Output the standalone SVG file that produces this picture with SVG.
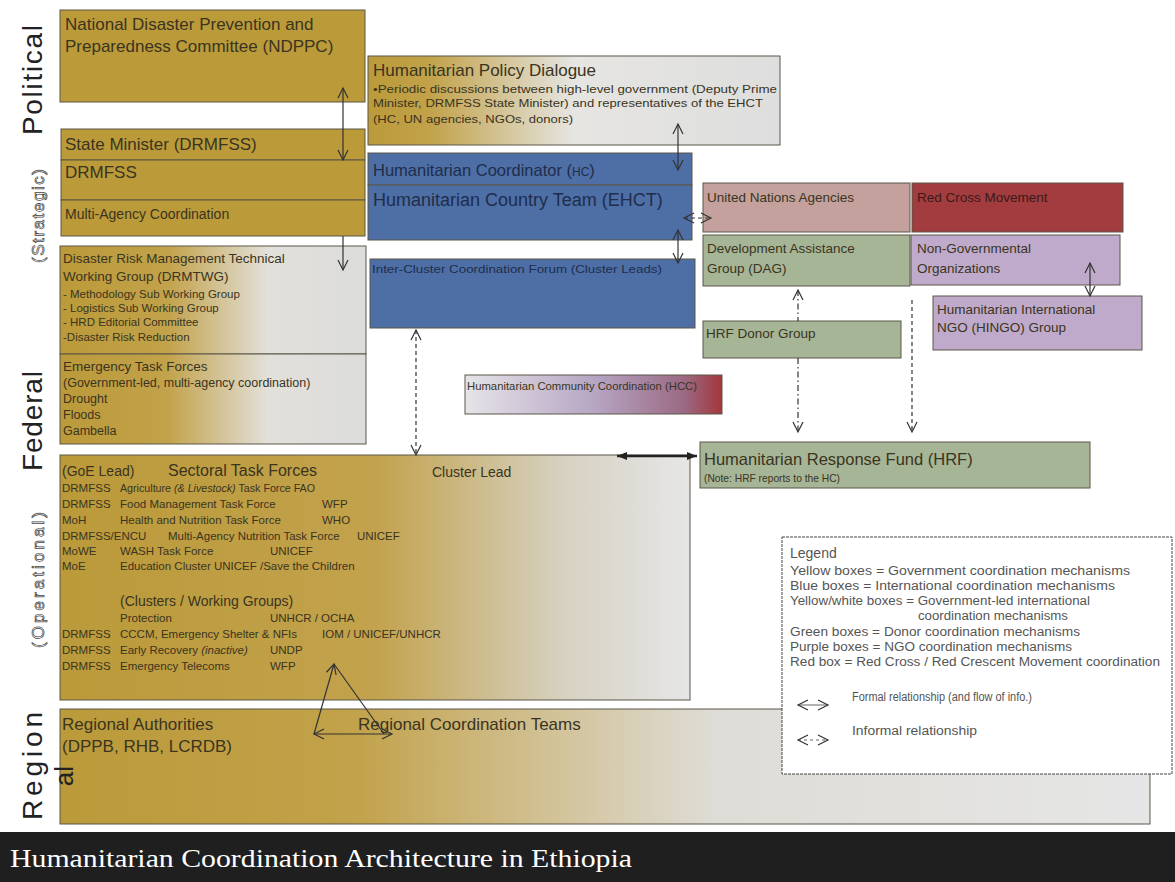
<svg xmlns="http://www.w3.org/2000/svg" width="1175" height="882" viewBox="0 0 1175 882">
<style>
text{font-family:"Liberation Sans",Arial,sans-serif;fill:#3a3420}
.b{stroke:#5a5648;stroke-width:1}
.y{fill:#BB9A3A}
.blue{fill:#4D6FA6}
.bt{fill:#1f2d4a}
.green{fill:#A7B597}
.purple{fill:#BFAACB}
.pink{fill:#C4A19D}
.red{fill:#A33C3F}
.side{font-family:"Liberation Sans",Arial,sans-serif;fill:#222}
.hollow{fill:#fff;stroke:#444;stroke-width:0.7}
.c{fill:none;stroke:#333;stroke-width:1.2}
.dash{stroke-dasharray:4 3}
.dd{stroke-dasharray:6 3 1.5 3}
.sm{font-size:11.5px}
.lg{font-size:12px;fill:#555}
</style>
<defs>
<marker id="v" markerUnits="userSpaceOnUse" markerWidth="14" markerHeight="14" refX="11" refY="6" orient="auto-start-reverse"><path d="M1,1 L11,6 L1,11" fill="none" stroke="#333" stroke-width="1.2"/></marker>
<marker id="f" markerUnits="userSpaceOnUse" markerWidth="12" markerHeight="10" refX="10" refY="4" orient="auto-start-reverse"><path d="M0,0 L10,4 L0,8 z" fill="#222"/></marker>
<linearGradient id="gTWG" gradientUnits="userSpaceOnUse" x1="60" y1="0" x2="366" y2="0"><stop offset="0" stop-color="#BB9A3A"/><stop offset="0.35" stop-color="#C2A24A"/><stop offset="0.68" stop-color="#E2E0DA"/><stop offset="1" stop-color="#DCDCDC"/></linearGradient>
<linearGradient id="gHPD" x1="0" y1="0" x2="1" y2="0"><stop offset="0" stop-color="#BB9A3A"/><stop offset="0.15" stop-color="#C2A24A"/><stop offset="0.5" stop-color="#E6E5E2"/><stop offset="1" stop-color="#DEDEDE"/></linearGradient>
<linearGradient id="gSec" x1="0" y1="0" x2="1" y2="0"><stop offset="0" stop-color="#BB9A3A"/><stop offset="0.5" stop-color="#C2A24C"/><stop offset="0.8" stop-color="#D6D1C2"/><stop offset="1" stop-color="#E6E6E6"/></linearGradient>
<linearGradient id="gReg" x1="0" y1="0" x2="1" y2="0"><stop offset="0" stop-color="#BB9A3A"/><stop offset="0.27" stop-color="#C2A24A"/><stop offset="0.6" stop-color="#DEDCD6"/><stop offset="1" stop-color="#E6E6E6"/></linearGradient>
<linearGradient id="gHCC" x1="0" y1="0" x2="1" y2="0"><stop offset="0" stop-color="#E6E4E8"/><stop offset="0.5" stop-color="#B6A6C4"/><stop offset="0.85" stop-color="#9B6A84"/><stop offset="1" stop-color="#A2383C"/></linearGradient>
</defs>

<rect width="1175" height="882" fill="#fff"/>

<g id="labels">
<text class="side" transform="rotate(-90 42 80)" x="42" y="80" text-anchor="middle" font-size="28" textLength="110" lengthAdjust="spacing">Political</text>
<text class="hollow" transform="rotate(-90 44 216)" x="44" y="216" text-anchor="middle" font-size="17" textLength="94" lengthAdjust="spacing" style="font-family:'Liberation Sans',Arial,sans-serif">(Strategic)</text>
<text class="side" transform="rotate(-90 42 421)" x="42" y="421" text-anchor="middle" font-size="28" textLength="100" lengthAdjust="spacing">Federal</text>
<text class="hollow" transform="rotate(-90 44 580)" x="44" y="580" text-anchor="middle" font-size="17" textLength="136" lengthAdjust="spacing" style="font-family:'Liberation Sans',Arial,sans-serif">(Operational)</text>
<text class="side" transform="rotate(-90 42 766)" x="42" y="766" text-anchor="middle" font-size="28" textLength="108" lengthAdjust="spacing">Region</text>
</g>

<g id="ndppc">
<rect class="y b" x="60" y="10" width="305" height="92"/>
<text x="65" y="30" font-size="17">National Disaster Prevention and</text>
<text x="65" y="52" font-size="17">Preparedness Committee (NDPPC)</text>
</g>
<g id="stateminister">
<rect class="y b" x="61" y="129" width="304" height="31"/>
<text x="65" y="150" font-size="17">State Minister (DRMFSS)</text>
</g>
<g id="drmfss">
<rect class="y b" x="61" y="160" width="304" height="40"/>
<text x="65" y="178" font-size="17">DRMFSS</text>
</g>
<g id="multiagency">
<rect class="y b" x="61" y="200" width="304" height="36"/>
<text x="65" y="219" font-size="14">Multi-Agency Coordination</text>
</g>
<g id="drmtwg">
<rect class="b" fill="url(#gTWG)" x="60" y="246" width="306" height="108"/>
<text x="63" y="263" font-size="13.5">Disaster Risk Management Technical</text>
<text x="63" y="281" font-size="13.5">Working Group (DRMTWG)</text>
<text x="63" y="298" class="sm">- Methodology Sub Working Group</text>
<text x="63" y="312" class="sm">- Logistics Sub Working Group</text>
<text x="63" y="326" class="sm">- HRD Editorial Committee</text>
<text x="63" y="341" class="sm">-Disaster Risk Reduction</text>
</g>
<g id="etf">
<rect class="b" fill="url(#gTWG)" x="60" y="354" width="306" height="90"/>
<text x="63" y="371" font-size="13.5">Emergency Task Forces</text>
<text x="63" y="387" font-size="12.5">(Government-led, multi-agency coordination)</text>
<text x="63" y="403" font-size="12.5">Drought</text>
<text x="63" y="419" font-size="12.5">Floods</text>
<text x="63" y="435" font-size="12.5">Gambella</text>
</g>

<g id="hpd">
<rect class="b" fill="url(#gHPD)" x="368" y="56" width="412" height="89"/>
<text x="373" y="76" font-size="17">Humanitarian Policy Dialogue</text>
<text x="373" y="93" font-size="11" textLength="404" lengthAdjust="spacingAndGlyphs">•Periodic discussions between  high-level government (Deputy Prime</text>
<text x="373" y="107" font-size="11" textLength="390" lengthAdjust="spacingAndGlyphs">Minister, DRMFSS State Minister) and representatives of the EHCT</text>
<text x="373" y="123" font-size="11" textLength="200" lengthAdjust="spacingAndGlyphs">(HC, UN agencies, NGOs, donors)</text>
</g>

<g id="hc">
<rect class="blue b" x="368" y="153" width="324" height="32"/>
<text x="373" y="176" font-size="16.5" class="bt">Humanitarian Coordinator (<tspan font-size="12">HC</tspan>)</text>
</g>
<g id="ehct">
<rect class="blue b" x="368" y="185" width="324" height="55"/>
<text x="373" y="206" font-size="18" class="bt">Humanitarian Country Team (EHCT)</text>
</g>
<g id="iccf">
<rect class="blue b" x="370" y="259" width="325" height="69"/>
<text x="372" y="273" font-size="11" class="bt" textLength="290" lengthAdjust="spacingAndGlyphs">Inter-Cluster Coordination Forum (Cluster Leads)</text>
</g>

<g id="una">
<rect class="pink b" x="703" y="183" width="207" height="49"/>
<text x="707" y="202" font-size="13.5">United Nations Agencies</text>
</g>
<g id="redcross">
<rect class="red b" x="912" y="183" width="211" height="49"/>
<text x="917" y="202" font-size="13.5" style="fill:#3a1a1a">Red Cross Movement</text>
</g>
<g id="dag">
<rect class="green b" x="703" y="235" width="207" height="51"/>
<text x="707" y="253" font-size="13.5">Development Assistance</text>
<text x="707" y="273" font-size="13.5">Group (DAG)</text>
</g>
<g id="ngo">
<rect class="purple b" x="911" y="235" width="209" height="50"/>
<text x="917" y="253" font-size="13.5">Non-Governmental</text>
<text x="917" y="273" font-size="13.5">Organizations</text>
</g>
<g id="hrfdonor">
<rect class="green b" x="703" y="321" width="198" height="37"/>
<text x="706" y="338" font-size="13.5">HRF Donor Group</text>
</g>
<g id="hingo">
<rect class="purple b" x="933" y="296" width="209" height="54"/>
<text x="937" y="314" font-size="13.5">Humanitarian International</text>
<text x="937" y="332" font-size="13.5">NGO (HINGO) Group</text>
</g>
<g id="hcc">
<rect class="b" fill="url(#gHCC)" x="465" y="375" width="257" height="39"/>
<text x="467" y="390" font-size="10.5" textLength="230" lengthAdjust="spacingAndGlyphs">Humanitarian Community Coordination (HCC)</text>
</g>
<g id="hrf">
<rect class="green b" x="700" y="442" width="390" height="46"/>
<text x="704" y="465" font-size="16.5">Humanitarian Response Fund (HRF)</text>
<text x="704" y="482" font-size="10.5" textLength="136" lengthAdjust="spacingAndGlyphs">(Note: HRF reports to the HC)</text>
</g>

<g id="sectoral" font-size="11.5">
<rect class="b" fill="url(#gSec)" x="60" y="455" width="630" height="245"/>
<text x="62" y="476" font-size="14">(GoE Lead)</text>
<text x="168" y="476" font-size="16">Sectoral Task Forces</text>
<text x="432" y="477" font-size="14">Cluster Lead</text>
<text x="62" y="492">DRMFSS</text><text x="120" y="492" textLength="195" lengthAdjust="spacingAndGlyphs">Agriculture <tspan font-style="italic">(&amp; Livestock)</tspan> Task Force  FAO</text>
<text x="62" y="508">DRMFSS</text><text x="120" y="508">Food Management Task Force</text><text x="322" y="508">WFP</text>
<text x="62" y="524">MoH</text><text x="120" y="524">Health and Nutrition Task Force</text><text x="322" y="524">WHO</text>
<text x="62" y="540">DRMFSS/ENCU</text><text x="168" y="540">Multi-Agency Nutrition Task Force</text><text x="357" y="540">UNICEF</text>
<text x="62" y="555">MoWE</text><text x="120" y="555">WASH Task Force</text><text x="270" y="555">UNICEF</text>
<text x="62" y="570">MoE</text><text x="120" y="570">Education Cluster   UNICEF /Save the Children</text>
<text x="120" y="606" font-size="14">(Clusters / Working Groups)</text>
<text x="120" y="622">Protection</text><text x="270" y="622">UNHCR / OCHA</text>
<text x="62" y="638">DRMFSS</text><text x="120" y="638">CCCM, Emergency Shelter &amp; NFIs</text><text x="322" y="638">IOM / UNICEF/UNHCR</text>
<text x="62" y="654">DRMFSS</text><text x="120" y="654">Early Recovery <tspan font-style="italic">(inactive)</tspan></text><text x="270" y="654">UNDP</text>
<text x="62" y="670">DRMFSS</text><text x="120" y="670">Emergency Telecoms</text><text x="270" y="670">WFP</text>
</g>

<g id="regional">
<rect class="b" fill="url(#gReg)" x="60" y="709" width="1090" height="115"/>
<text x="62" y="730" font-size="17">Regional Authorities</text>
<text x="62" y="752" font-size="17">(DPPB, RHB, LCRDB)</text>
<text x="358" y="730" font-size="17">Regional Coordination Teams</text>
<text class="side" transform="rotate(-90 73 776)" x="73" y="776" text-anchor="middle" font-size="26">al</text>
</g>

<g id="legend">
<rect x="782" y="537" width="390" height="237" fill="#fff" stroke="#444" stroke-dasharray="3 1"/>
<text x="790" y="558" font-size="14" style="fill:#555">Legend</text>
<text class="lg" x="790" y="575" textLength="340" lengthAdjust="spacingAndGlyphs">Yellow boxes = Government coordination mechanisms</text>
<text class="lg" x="790" y="590" textLength="325" lengthAdjust="spacingAndGlyphs">Blue boxes = International coordination mechanisms</text>
<text class="lg" x="790" y="605" textLength="300" lengthAdjust="spacingAndGlyphs">Yellow/white boxes = Government-led international</text>
<text class="lg" x="918" y="620" textLength="150" lengthAdjust="spacingAndGlyphs">coordination mechanisms</text>
<text class="lg" x="790" y="636" textLength="290" lengthAdjust="spacingAndGlyphs">Green boxes = Donor coordination mechanisms</text>
<text class="lg" x="790" y="651" textLength="282" lengthAdjust="spacingAndGlyphs">Purple boxes = NGO coordination mechanisms</text>
<text class="lg" x="790" y="666" textLength="370" lengthAdjust="spacingAndGlyphs">Red box = Red Cross / Red Crescent Movement coordination</text>
<line x1="798" y1="705" x2="828" y2="705" stroke="#666" stroke-width="1" marker-start="url(#v)" marker-end="url(#v)"/>
<text class="lg" x="852" y="701" textLength="180" lengthAdjust="spacingAndGlyphs">Formal relationship (and flow of info.)</text>
<line x1="798" y1="740" x2="828" y2="740" stroke="#666" stroke-width="1" stroke-dasharray="3 3" marker-start="url(#v)" marker-end="url(#v)"/>
<text class="lg" x="852" y="735" textLength="125" lengthAdjust="spacingAndGlyphs">Informal relationship</text>
</g>

<g id="connectors">
<line class="c" x1="343" y1="88" x2="343" y2="160" marker-start="url(#v)" marker-end="url(#v)"/>
<line class="c" x1="343" y1="236" x2="343" y2="270" marker-end="url(#v)"/>
<line class="c" x1="678" y1="124" x2="678" y2="170" marker-start="url(#v)" marker-end="url(#v)"/>
<line class="c" x1="678" y1="230" x2="678" y2="263" marker-start="url(#v)" marker-end="url(#v)"/>
<line class="c dash" x1="684" y1="218" x2="711" y2="218" marker-start="url(#v)" marker-end="url(#v)"/>
<line class="c dash" x1="416" y1="330" x2="416" y2="455" marker-start="url(#v)" marker-end="url(#v)"/>
<line class="c dd" x1="798" y1="290" x2="798" y2="321" marker-start="url(#v)"/>
<line class="c dd" x1="798" y1="358" x2="798" y2="432" marker-end="url(#v)"/>
<line class="c dash" x1="912" y1="300" x2="912" y2="432" marker-end="url(#v)"/>
<line class="c" x1="1090" y1="263" x2="1090" y2="296" marker-start="url(#v)" marker-end="url(#v)"/>
<line x1="617" y1="456" x2="697" y2="456" stroke="#222" stroke-width="2.5" marker-start="url(#f)" marker-end="url(#f)"/>
<line class="c" x1="334" y1="664" x2="314" y2="734" marker-start="url(#v)"/>
<line class="c" x1="334" y1="664" x2="384" y2="734"/>
<line class="c" x1="314" y1="734" x2="392" y2="734" marker-start="url(#v)" marker-end="url(#v)"/>
</g>

<g id="title">
<rect x="0" y="832" width="1175" height="50" fill="#1f1f1f"/>
<text x="10" y="867" font-size="25" textLength="622" lengthAdjust="spacingAndGlyphs" style="font-family:'Liberation Serif','Times New Roman',serif;fill:#fff">Humanitarian Coordination Architecture in Ethiopia</text>
</g>
</svg>
